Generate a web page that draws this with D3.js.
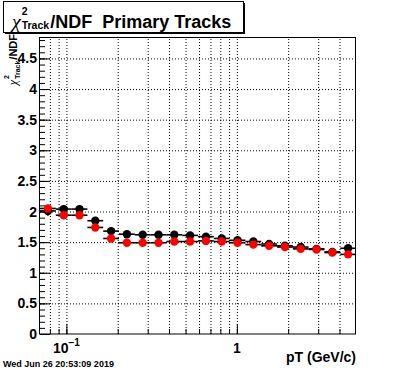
<!DOCTYPE html>
<html>
<head>
<meta charset="utf-8">
<script src="https://cdn.jsdelivr.net/npm/d3@7"></script>
<style>
body { margin: 0; background: #fff; }
text { font-family: "Liberation Sans", Arial, sans-serif; font-weight: bold; fill: #000; }
text.chi { font-family: "Liberation Serif", serif; font-style: italic; font-weight: normal; }
.grid line { stroke: #000; stroke-dasharray: 1,2; }
.grid path { display: none; }
</style>
</head>
<body>
<svg width="396" height="372"></svg>
<script>
// pT bin edges (GeV/c), 20 log bins
const ptEdges = [0.0700, 0.0867, 0.1073, 0.1328, 0.1644, 0.2035, 0.2520, 0.3119, 0.3861, 0.4780,
  0.5918, 0.7326, 0.9069, 1.1227, 1.3899, 1.7206, 2.1300, 2.6369, 3.2644, 4.0412, 5.0000];

const blackValues = [2.01, 2.04, 2.04, 1.85, 1.68, 1.63, 1.62, 1.62, 1.62, 1.61,
  1.59, 1.56, 1.53, 1.51, 1.47, 1.44, 1.42, 1.39, 1.34, 1.40];
const blackErrors = [0.08, 0.01, 0.01, 0.01, 0.01, 0.01, 0.01, 0.01, 0.01, 0.01,
  0.01, 0.01, 0.01, 0.01, 0.01, 0.01, 0.01, 0.01, 0.01, 0.02];
const redValues = [2.05, 1.94, 1.94, 1.74, 1.56, 1.49, 1.49, 1.49, 1.51, 1.51,
  1.52, 1.51, 1.49, 1.46, 1.44, 1.42, 1.39, 1.38, 1.33, 1.30];

const xDomain = [0.07, 5];
const yDomain = [0, 4.85];
const xGridValues = [0.08, 0.09, 0.1, 0.2, 0.3, 0.4, 0.5, 0.6, 0.7, 0.8, 0.9, 1, 2, 3, 4];
const xMajorTicks = [0.1, 1];
const yMajorTicks = [0, 0.5, 1, 1.5, 2, 2.5, 3, 3.5, 4, 4.5];
const yMinorTicks = d3.range(0, 4.85, 0.1);

const titleRest = '/NDF  Primary Tracks';
const xLabel = 'pT (GeV/c)';
const dateLabel = 'Wed Jun 26 20:53:09 2019';

const margin = { left: 40, right: 40, top: 37, bottom: 38 };

const svg = d3.select('svg');
const width = +svg.attr('width');
const height = +svg.attr('height');
const innerWidth = width - margin.left - margin.right;
const innerHeight = height - margin.top - margin.bottom;

const g = svg.append('g')
    .attr('transform', `translate(${margin.left},${margin.top})`);

const xScale = d3.scaleLog().domain(xDomain).range([0, innerWidth]);
const yScale = d3.scaleLinear().domain(yDomain).range([innerHeight, 0]);

// dotted grid
g.append('g')
    .attr('class', 'grid')
    .attr('transform', `translate(0,${innerHeight})`)
    .call(d3.axisBottom(xScale).tickValues(xGridValues).tickSize(-innerHeight).tickFormat(''));
g.append('g')
    .attr('class', 'grid')
    .call(d3.axisLeft(yScale).tickValues(yMajorTicks.slice(1)).tickSize(-innerWidth).tickFormat(''));

// ticks inside the frame
const tickAxis = (axis, vals, size) => axis.tickValues(vals).tickSize(-size).tickFormat('');
const xAxisG = g.append('g').attr('transform', `translate(0,${innerHeight})`);
xAxisG.append('g').call(tickAxis(d3.axisBottom(xScale), xGridValues, 5));
xAxisG.append('g').call(tickAxis(d3.axisBottom(xScale), xMajorTicks, 10));
const yAxisG = g.append('g');
yAxisG.append('g').call(tickAxis(d3.axisLeft(yScale), yMinorTicks, 5));
yAxisG.append('g').call(tickAxis(d3.axisLeft(yScale), yMajorTicks, 10));
g.selectAll('.domain').attr('stroke', 'none');

// tick labels
yAxisG.selectAll('.ylab').data(yMajorTicks)
  .enter().append('text')
    .attr('class', 'ylab')
    .attr('x', -3)
    .attr('y', d => yScale(d) + 5)
    .attr('text-anchor', 'end')
    .style('font-size', '14px')
    .text(d => d);

xAxisG.selectAll('.xlab').data(xMajorTicks)
  .enter().append('text')
    .attr('class', 'xlab')
    .attr('x', d => xScale(d))
    .attr('y', 19)
    .attr('text-anchor', 'middle')
    .style('font-size', '14px')
    .each(function (d) {
      const t = d3.select(this);
      const e = Math.round(Math.log10(d));
      if (e === 0) { t.text('1'); return; }
      t.append('tspan').text('10');
      t.append('tspan').attr('dy', -7).style('font-size', '10px').text('\u2212' + Math.abs(e));
    });

xAxisG.append('text')
    .attr('x', innerWidth)
    .attr('y', 28)
    .attr('text-anchor', 'end')
    .style('font-size', '14px')
    .text(xLabel);

// data
const bins = d3.range(ptEdges.length - 1).map(i => ({
  x0: xScale(ptEdges[i]),
  x1: xScale(ptEdges[i + 1])
}));

const drawSeries = (values, errors, color) => {
  const sg = g.append('g');
  sg.selectAll('.hbar').data(values)
    .enter().append('line')
      .attr('x1', (d, i) => bins[i].x0)
      .attr('x2', (d, i) => bins[i].x1)
      .attr('y1', d => yScale(d))
      .attr('y2', d => yScale(d))
      .attr('stroke', '#000')
      .attr('stroke-width', 1.6);
  if (errors) {
    sg.selectAll('.vbar').data(values)
      .enter().append('line')
        .attr('x1', (d, i) => (bins[i].x0 + bins[i].x1) / 2)
        .attr('x2', (d, i) => (bins[i].x0 + bins[i].x1) / 2)
        .attr('y1', (d, i) => yScale(d - errors[i]))
        .attr('y2', (d, i) => yScale(d + errors[i]))
        .attr('stroke', '#000')
        .attr('stroke-width', 1.6);
  }
  sg.selectAll('circle').data(values)
    .enter().append('circle')
      .attr('cx', (d, i) => (bins[i].x0 + bins[i].x1) / 2)
      .attr('cy', d => yScale(d))
      .attr('r', 4.2)
      .attr('fill', color);
};
drawSeries(blackValues, blackErrors, '#000');
drawSeries(redValues, null, '#ff0000');

// frame
g.append('rect')
    .attr('x', -0.5).attr('y', 0.5)
    .attr('width', innerWidth).attr('height', innerHeight - 0.5)
    .attr('fill', 'none')
    .attr('stroke', '#000');

// chi2 label builder: chi, stacked ^2 and _Track, then rest
const chiLabel = (parent, size, subSize, supDy, subDy, rest) => {
  const chi = parent.append('text').attr('class', 'chi').attr('x', 0).attr('y', 0)
      .style('font-size', (size * 1.1) + 'px').text('\u03c7');
  const w = chi.node().getComputedTextLength() + 1;
  const sup = parent.append('text').attr('x', w).attr('y', supDy)
      .style('font-size', subSize + 'px').text('2');
  const sub = parent.append('text').attr('x', w).attr('y', subDy)
      .style('font-size', subSize + 'px').text('Track');
  const w2 = w + Math.max(sup.node().getComputedTextLength(), sub.node().getComputedTextLength()) + 1;
  const r = parent.append('text').attr('x', w2).attr('y', 0)
      .style('font-size', size + 'px').style('white-space', 'pre').text(rest);
  return w2 + r.node().getComputedTextLength();
};

// title box
svg.append('rect').attr('x', 5).attr('y', 3).attr('width', 240).attr('height', 31).attr('fill', '#000');
svg.append('rect').attr('x', 3.5).attr('y', 1.5).attr('width', 240).attr('height', 31)
    .attr('fill', '#fff').attr('stroke', '#000');
const titleG = svg.append('g').attr('transform', 'translate(12,27.5)');
chiLabel(titleG, 18, 10.5, -13, 1.5, titleRest);

// y axis title
const yTitleOuter = svg.append('g').attr('transform', 'translate(17,34) rotate(-90)');
const yTitleG = yTitleOuter.append('g');
const yTitleW = chiLabel(yTitleG, 11, 7, -8.5, 2.5, '/NDF');
yTitleG.attr('transform', `translate(${-yTitleW},0)`);

// date stamp
svg.append('text')
    .attr('x', 3)
    .attr('y', 367)
    .style('font-size', '9px')
    .text(dateLabel);
</script>
</body>
</html>
